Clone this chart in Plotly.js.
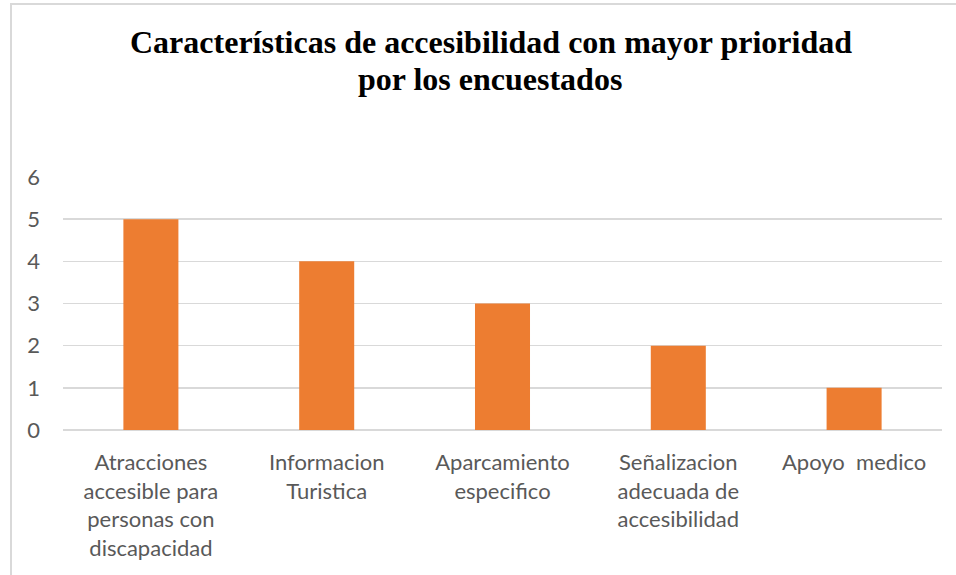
<!DOCTYPE html>
<html>
<head>
<meta charset="utf-8">
<script src="https://cdn.plot.ly/plotly-3.0.1.min.js"></script>
<style>
html,body{margin:0;padding:0;background:#fff;}
#frame{position:absolute;left:10px;top:3px;width:960px;height:600px;border-left:2px solid #d9d9d9;border-top:2px solid #d9d9d9;}
#chart{position:absolute;left:0;top:0;width:956px;height:575px;}
</style>
</head>
<body>
<div id="frame"></div>
<div id="chart"></div>
<script>
var titleLine1 = "Características de accesibilidad con mayor prioridad";
var titleLine2 = "por los encuestados";
var categories = [
  "Atracciones<br>accesible para<br>personas con<br>discapacidad",
  "Informacion<br>Turistica",
  "Aparcamiento<br>especifico",
  "Señalizacion<br>adecuada de<br>accesibilidad",
  "Apoyo  medico"
];
var values = [5, 4, 3, 2, 1];
var yTicks = [0, 1, 2, 3, 4, 5, 6];

var trace = {
  type: "bar",
  x: categories,
  y: values,
  marker: {color: "#ED7D31"},
  width: 0.313,
  hoverinfo: "none"
};

var titleFont = {family: "Liberation Serif", size: 32, color: "#000"};

var layout = {
  width: 956,
  height: 575,
  paper_bgcolor: "rgba(0,0,0,0)",
  plot_bgcolor: "rgba(0,0,0,0)",
  margin: {l: 63, r: 14, t: 177, b: 145},
  showlegend: false,
  title: {
    text: "<b>" + titleLine1 + "</b>",
    font: titleFont,
    x: 491 / 956, xref: "container", xanchor: "center",
    y: 1 - 42 / 575, yref: "container", yanchor: "middle"
  },
  annotations: [{
    text: "<b>" + titleLine2 + "</b>",
    font: titleFont,
    showarrow: false,
    xref: "paper", yref: "paper",
    x: (490 - 63) / 879, xanchor: "center",
    y: (430 - 79) / 253, yanchor: "middle"
  }],
  xaxis: {
    type: "category",
    tickfont: {family: "Lato", size: 22, color: "#595959"},
    showgrid: false,
    showline: false,
    ticks: "",
    tickangle: 0,
    ticklabelstandoff: 17,
    fixedrange: true
  },
  yaxis: {
    range: [0, 6],
    tickvals: yTicks,
    ticktext: yTicks.map(String),
    tickfont: {family: "Lato", size: 22, color: "#595959"},
    gridcolor: "#d9d9d9",
    gridwidth: 1.5,
    zeroline: true,
    zerolinecolor: "#d9d9d9",
    zerolinewidth: 1.5,
    showline: false,
    ticks: "",
    ticklabelstandoff: 22,
    fixedrange: true
  }
};

Plotly.newPlot("chart", [trace], layout, {displayModeBar: false, staticPlot: true});
</script>
</body>
</html>
